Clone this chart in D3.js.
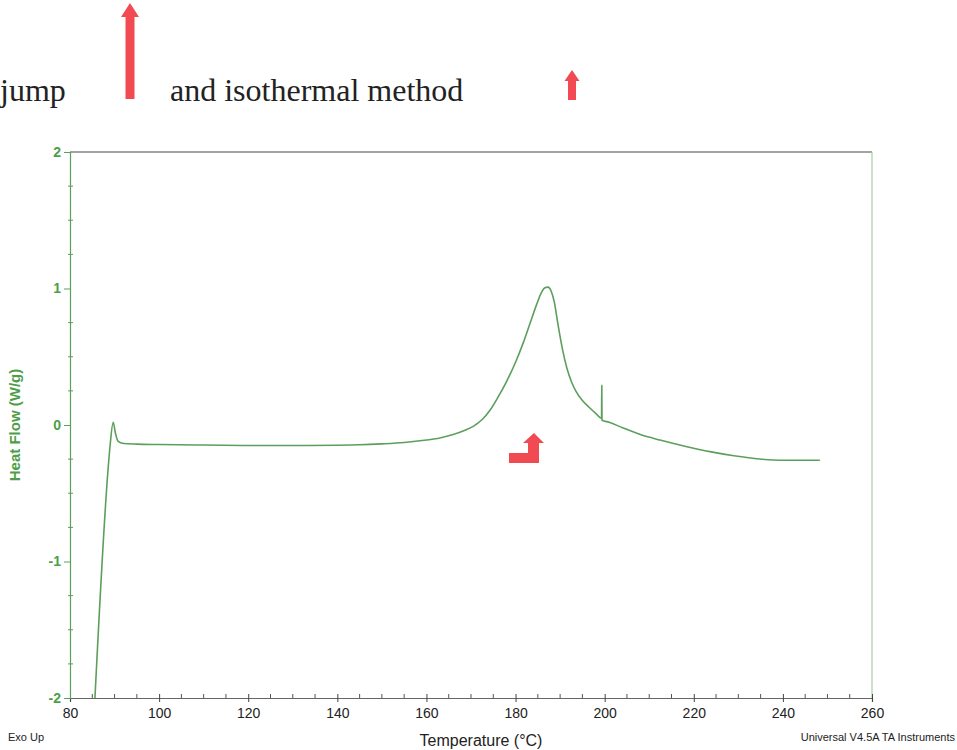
<!DOCTYPE html>
<html>
<head>
<meta charset="utf-8">
<script src="https://cdn.jsdelivr.net/npm/d3@7/dist/d3.min.js"></script>
<style>
  html, body { margin: 0; padding: 0; background: #fff; }
  svg { display: block; }
</style>
</head>
<body>
<svg id="chart" width="957" height="750"></svg>
<script>
// ---- data ----
const temperature = [85.6, 88.6, 89.0, 89.7, 90.2, 90.8, 92, 95, 100, 110, 120, 130, 140, 145, 150, 155, 160, 163, 166, 168.5, 170.5, 172.5, 174.3, 176, 178, 180, 181.7, 183.2, 184.7, 185.8, 186.6, 187.3, 188, 188.7, 189.5, 190.5, 191.5, 192.5, 193.5, 195, 196.5, 198, 199.3, 199.35, 199.4, 201, 204, 208, 212.4, 218, 223.6, 229, 234.8, 240, 244, 248.3];
const heatFlow    = [-2.0, -0.3, -0.15, 0.02, -0.06, -0.12, -0.135, -0.14, -0.143, -0.147, -0.15, -0.15, -0.148, -0.145, -0.138, -0.128, -0.11, -0.095, -0.07, -0.04, -0.01, 0.04, 0.11, 0.2, 0.32, 0.46, 0.6, 0.74, 0.88, 0.97, 1.005, 1.01, 0.98, 0.9, 0.74, 0.56, 0.42, 0.32, 0.25, 0.18, 0.13, 0.085, 0.05, 0.29, 0.035, 0.02, -0.02, -0.07, -0.11, -0.155, -0.195, -0.225, -0.249, -0.258, -0.258, -0.258];
const xTicks = [80, 100, 120, 140, 160, 180, 200, 220, 240, 260];
const yTicks = [-2, -1, 0, 1, 2];
const xMinorStep = 5;
const yMinorStep = 0.25;

(function () {
const svg = d3.select("#chart");
const pl = 70, pr = 872, pt = 152, pb = 698;

const x = d3.scaleLinear().domain([80, 260]).range([pl, pr]);
const y = d3.scaleLinear().domain([-2, 2]).range([pb, pt]);

const green = "#5c9f5c";
const labelGreen = "#4e9e48";
const fmt = d => String(d); // plain hyphen minus as in the reference

// minor ticks
const xMinor = d3.range(80, 260 + 0.001, xMinorStep).filter(v => !xTicks.includes(v));
const yMinor = d3.range(-2, 2 + 0.001, yMinorStep).filter(v => !yTicks.includes(Math.round(v * 100) / 100));

svg.append("g").selectAll("line").data(xMinor).join("line")
  .attr("x1", d => x(d)).attr("x2", d => x(d))
  .attr("y1", pb).attr("y2", pb - 4)
  .attr("stroke", "#555").attr("stroke-width", 1);
svg.append("g").selectAll("line").data(yMinor).join("line")
  .attr("x1", pl - 2).attr("x2", pl + 3)
  .attr("y1", d => y(d)).attr("y2", d => y(d))
  .attr("stroke", green).attr("stroke-width", 1);

// frame: top gray, right light green
svg.append("line").attr("x1", pl).attr("x2", pr).attr("y1", pt).attr("y2", pt)
  .attr("stroke", "#a3a3a3").attr("stroke-width", 2);
svg.append("line").attr("x1", pr).attr("x2", pr).attr("y1", pt).attr("y2", pb)
  .attr("stroke", "#a9cba9").attr("stroke-width", 1.2);

// x axis
const xAxis = d3.axisBottom(x).tickValues(xTicks).tickSize(4).tickFormat(fmt);
const gx = svg.append("g").attr("transform", `translate(0,${pb})`).call(xAxis);
gx.select(".domain").attr("stroke", "#666").attr("stroke-width", 1.2);
gx.selectAll(".tick line").attr("stroke", "#444").attr("y1", -4).attr("y2", 4);
gx.selectAll(".tick text")
  .attr("font-family", "Liberation Sans, Arial, sans-serif")
  .attr("font-size", 14).attr("fill", "#222").attr("dy", "0.95em");

// y axis
const yAxis = d3.axisLeft(y).tickValues(yTicks).tickSize(6).tickFormat(fmt);
const gy = svg.append("g").attr("transform", `translate(${pl},0)`).call(yAxis);
gy.select(".domain").attr("stroke", green).attr("stroke-width", 1.2);
gy.selectAll(".tick line").attr("stroke", green);
gy.selectAll(".tick text")
  .attr("font-family", "Liberation Sans, Arial, sans-serif")
  .attr("font-size", 14).attr("font-weight", "bold").attr("fill", labelGreen)
  .attr("x", -9);

// curve
const pts = temperature.map((t, i) => [t, heatFlow[i]]);
const line = d3.line().x(d => x(d[0])).y(d => y(d[1])).curve(d3.curveMonotoneX);
svg.append("path").datum(pts).attr("d", line)
  .attr("fill", "none").attr("stroke", green).attr("stroke-width", 1.6)
  .attr("stroke-linejoin", "round");

// axis titles
svg.append("text").attr("transform", `translate(20,${(pt + pb) / 2}) rotate(-90)`)
  .attr("text-anchor", "middle")
  .attr("font-family", "Liberation Sans, Arial, sans-serif")
  .attr("font-size", 15).attr("font-weight", "bold").attr("fill", labelGreen)
  .text("Heat Flow (W/g)");
svg.append("text").attr("x", 481).attr("y", 746).attr("text-anchor", "middle")
  .attr("font-family", "Liberation Sans, Arial, sans-serif")
  .attr("font-size", 16).attr("fill", "#222")
  .text("Temperature (°C)");
svg.append("text").attr("x", 8).attr("y", 741)
  .attr("font-family", "Liberation Sans, Arial, sans-serif")
  .attr("font-size", 11).attr("fill", "#222").text("Exo Up");
svg.append("text").attr("x", 955).attr("y", 741).attr("text-anchor", "end")
  .attr("font-family", "Liberation Sans, Arial, sans-serif")
  .attr("font-size", 11).attr("fill", "#222").text("Universal V4.5A TA Instruments");

// header text
const serif = "Liberation Serif, Times New Roman, serif";
svg.append("text").attr("x", 0).attr("y", 101).attr("font-family", serif)
  .attr("font-size", 32).attr("fill", "#222").text("jump");
svg.append("text").attr("x", 170).attr("y", 101).attr("font-family", serif)
  .attr("font-size", 32).attr("fill", "#222").text("and isothermal method");

// red arrows (annotations)
const red = "#f24a52";
function upArrow(cx, yTop, yBot, shaftW, headW, headH) {
  const p = d3.path();
  p.moveTo(cx, yTop);
  p.lineTo(cx + headW / 2, yTop + headH);
  p.lineTo(cx + shaftW / 2, yTop + headH);
  p.lineTo(cx + shaftW / 2, yBot);
  p.lineTo(cx - shaftW / 2, yBot);
  p.lineTo(cx - shaftW / 2, yTop + headH);
  p.lineTo(cx - headW / 2, yTop + headH);
  p.closePath();
  return p.toString();
}
svg.append("path").attr("d", upArrow(130, 3, 99, 9, 18, 14)).attr("fill", red);
svg.append("path").attr("d", upArrow(572, 70, 100, 8, 15, 11)).attr("fill", red);
// L-shaped arrow
const lp = d3.path();
lp.moveTo(534, 433);
lp.lineTo(544, 443);
lp.lineTo(539, 443);
lp.lineTo(539, 463);
lp.lineTo(509, 463);
lp.lineTo(509, 453);
lp.lineTo(528, 453);
lp.lineTo(528, 443);
lp.lineTo(523, 443);
lp.closePath();
svg.append("path").attr("d", lp.toString()).attr("fill", red);
})();
</script>
</body>
</html>
